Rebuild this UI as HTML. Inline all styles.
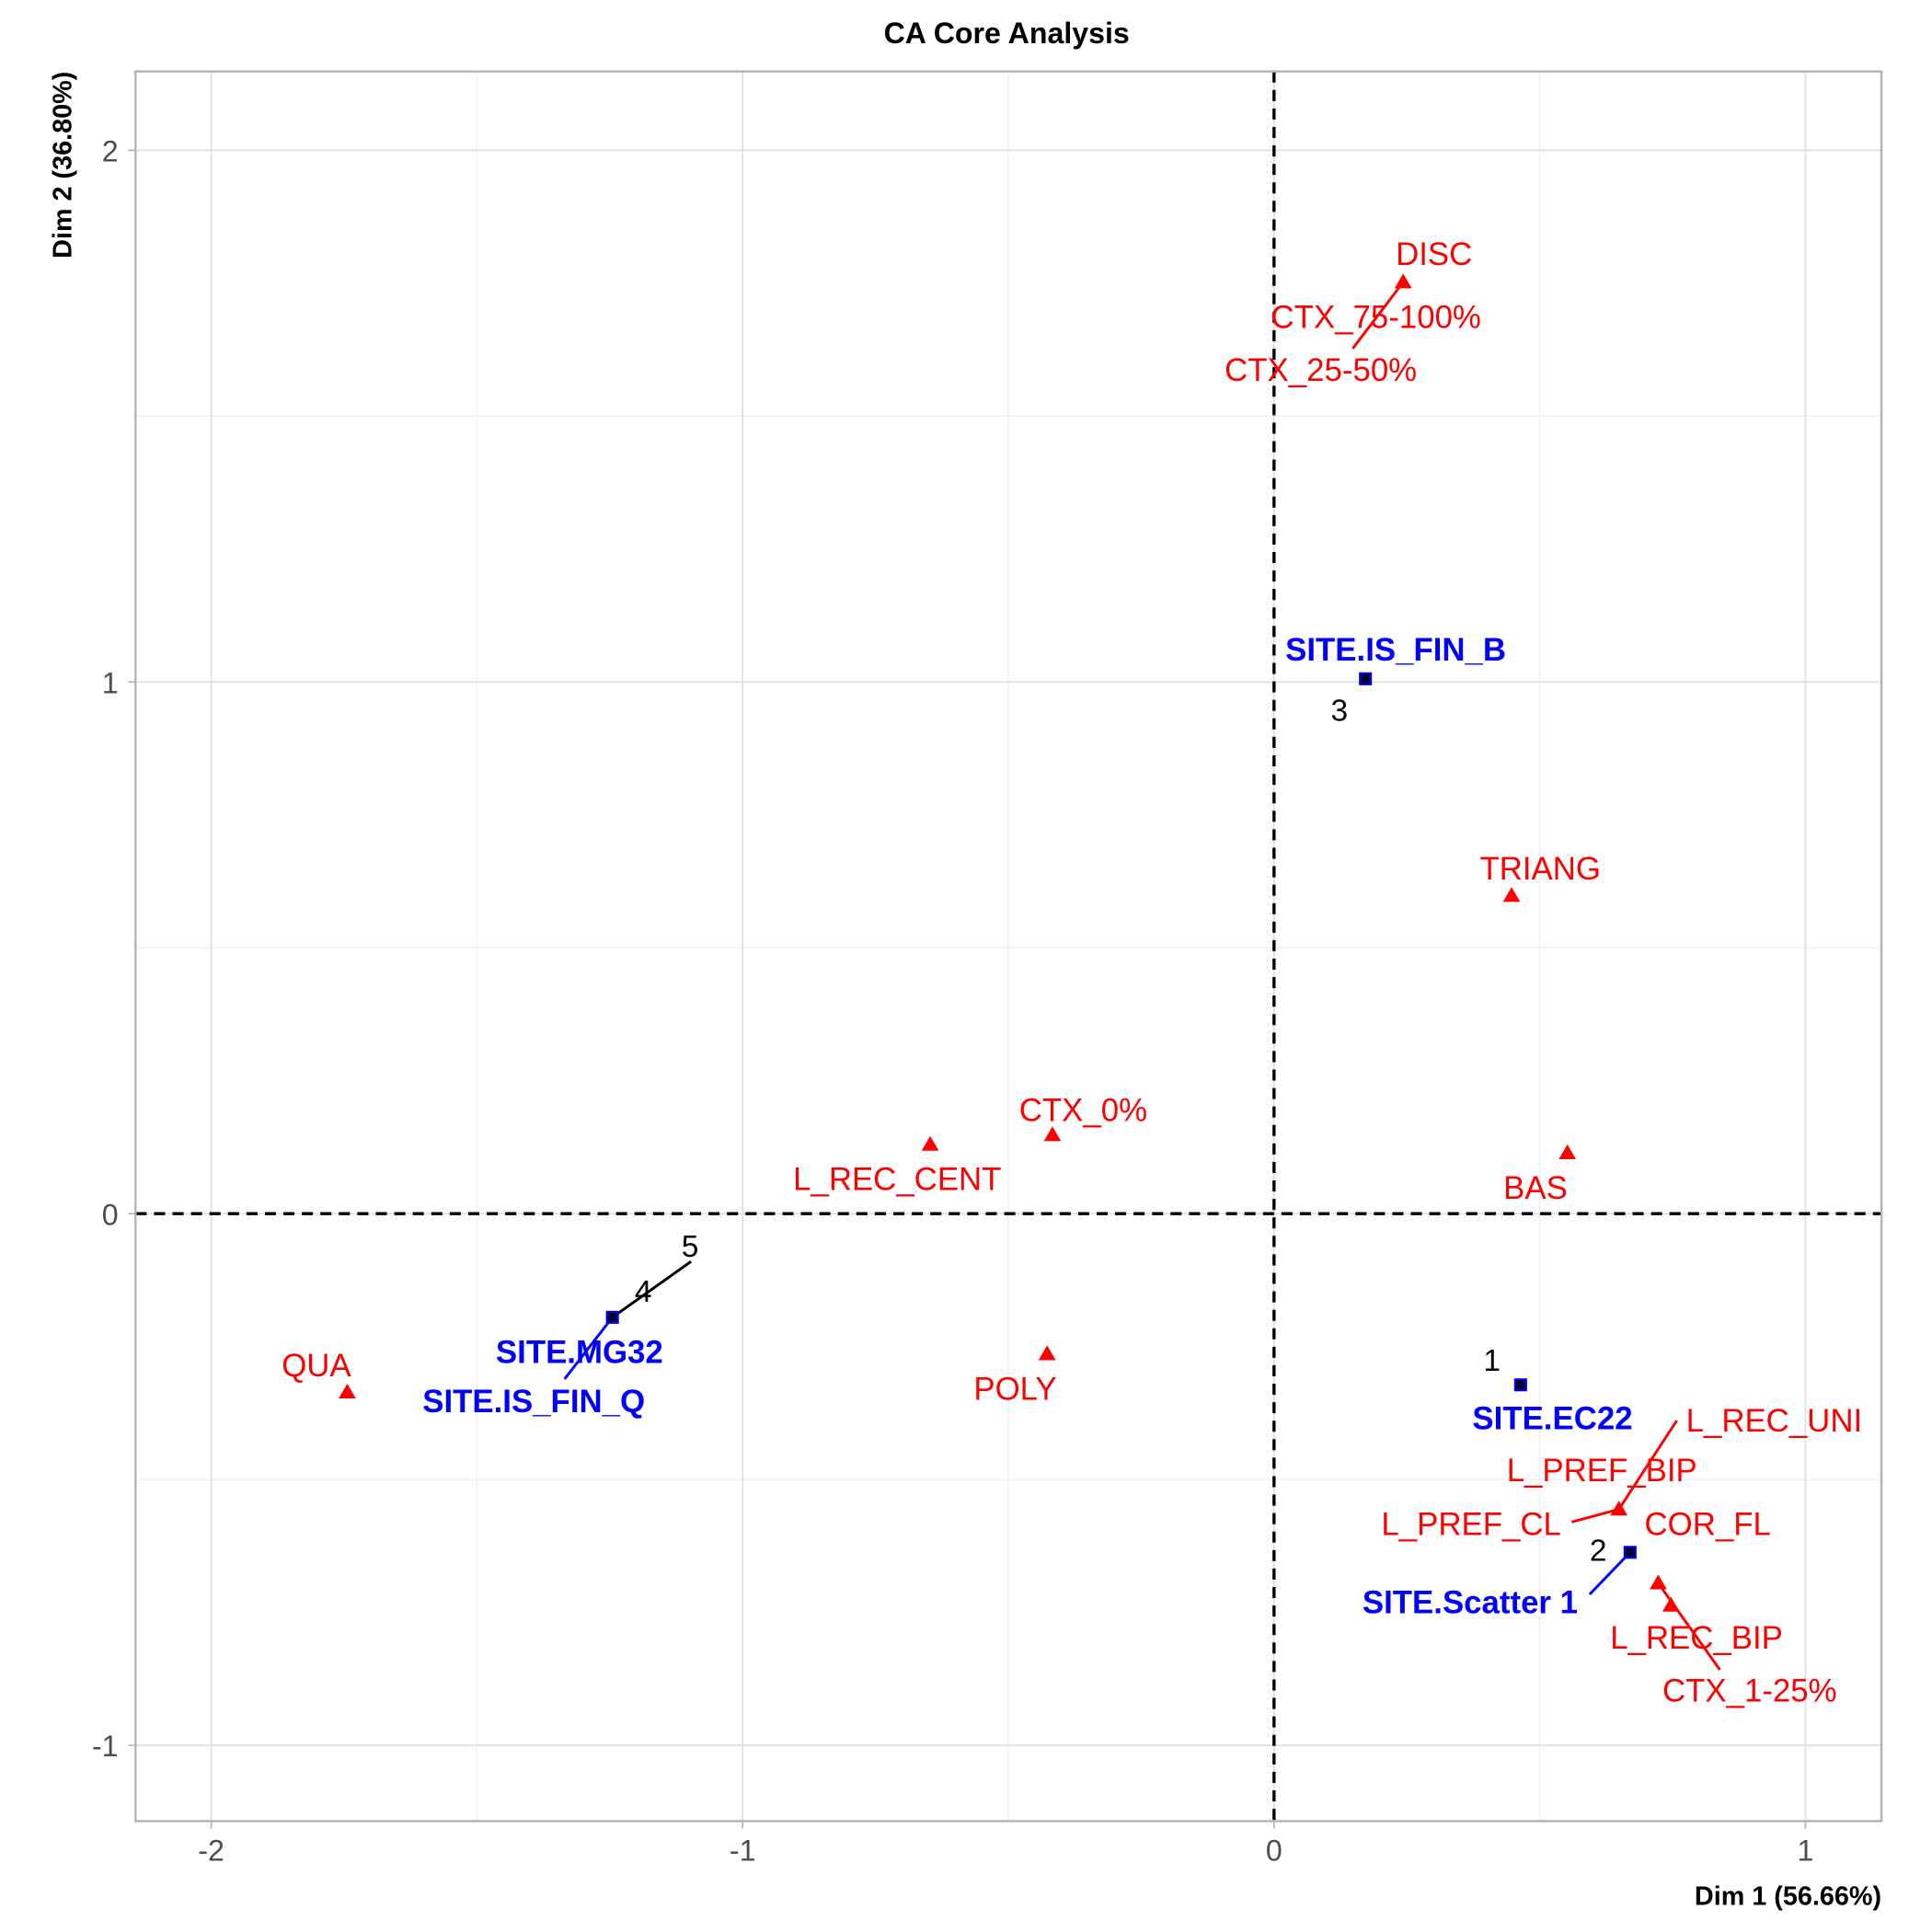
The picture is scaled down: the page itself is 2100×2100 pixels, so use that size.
<!DOCTYPE html>
<html><head><meta charset="utf-8"><style>
html,body{margin:0;padding:0;background:#fff}
svg{display:block}
text{font-family:"Liberation Sans",Arial,sans-serif}
</style></head><body>
<svg id="chart" width="2100" height="2100" viewBox="0 0 1568 1568" xmlns="http://www.w3.org/2000/svg">
<g id="grid"></g>
<g id="axes"></g>
<g id="marks"></g>
<text x="817" y="35" text-anchor="middle" font-size="24" font-weight="bold" fill="#000">CA Core Analysis</text>
<text x="1527" y="1546" text-anchor="end" font-size="21.5" font-weight="bold" fill="#000">Dim 1 (56.66%)</text>
<text transform="translate(58,58) rotate(-90)" text-anchor="end" font-size="21.5" font-weight="bold" fill="#000">Dim 2 (36.80%)</text>
</svg>
<script>
const xTicks = [-2, -1, 0, 1];
const yTicks = [-1, 0, 1, 2];
const xMinor = [-1.5, -0.5, 0.5];
const yMinor = [-0.5, 0.5, 1.5];
// row points (red triangles)
const rowNames = ["DISC","TRIANG","CTX_0%","L_REC_CENT","BAS","POLY","QUA","COR_FL","L_REC_BIP","CTX_1-25%"];
const rowX = [0.243, 0.447, -0.417, -0.647, 0.552, -0.427, -1.744, 0.649, 0.723, 0.747];
const rowY = [1.752, 0.598, 0.148, 0.130, 0.114, -0.264, -0.336, -0.556, -0.695, -0.737];
// column points (blue squares)
const colNames = ["SITE.IS_FIN_B","SITE.EC22","SITE.Scatter 1","SITE.MG32"];
const colX = [0.172, 0.464, 0.670, -1.245];
const colY = [1.006, -0.322, -0.637, -0.195];
// labels
const lblText = ["DISC","CTX_75-100%","CTX_25-50%","TRIANG","CTX_0%","L_REC_CENT","BAS","POLY","QUA","L_REC_UNI","L_PREF_BIP","L_PREF_CL","COR_FL","L_REC_BIP","CTX_1-25%",
 "SITE.IS_FIN_B","SITE.EC22","SITE.Scatter 1","SITE.MG32","SITE.IS_FIN_Q","3","1","2","4","5"];
const lblX = [0.301,0.192,0.088,0.501,-0.359,-0.709,0.492,-0.487,-1.802,0.941,0.617,0.371,0.816,0.795,0.895,
 0.229,0.524,0.369,-1.307,-1.393,0.123,0.410,0.610,-1.187,-1.099];
const lblY = [1.805,1.687,1.587,0.649,0.195,0.065,0.049,-0.329,-0.285,-0.389,-0.482,-0.584,-0.584,-0.797,-0.897,
 1.061,-0.385,-0.731,-0.260,-0.353,0.948,-0.275,-0.632,-0.145,-0.060];
const lblKind = ["r","r","r","r","r","r","r","r","r","r","r","r","r","r","r","b","b","b","b","b","k","k","k","k","k"];
// connector segments
const segX1 = [0.243, 0.649, 0.649, 0.723, 0.670, -1.245, -1.245];
const segY1 = [1.752, -0.556, -0.556, -0.695, -0.637, -0.195, -0.195];
const segX2 = [0.148, 0.758, 0.560, 0.839, 0.594, -1.335, -1.097];
const segY2 = [1.627, -0.389, -0.580, -0.858, -0.716, -0.311, -0.090];
const segKind = ["r","r","r","r","b","b","k"];

const L=110,R=1527,T=58,B=1478;
const X0=1034, UX=431.3, Y0=985, UY=431.5;
const sx = v => X0 + v*UX;
const sy = v => Y0 - v*UY;
const NS="http://www.w3.org/2000/svg";
function mk(tag, attrs, parent, txt){const e=document.createElementNS(NS,tag);for(const k in attrs)e.setAttribute(k,attrs[k]);if(txt!==undefined)e.textContent=txt;parent.appendChild(e);return e;}
const grid=document.getElementById('grid'), axes=document.getElementById('axes'), marks=document.getElementById('marks');
mk('rect',{x:L,y:T,width:R-L,height:B-T,fill:'#fff'},grid);
xMinor.forEach(v=>{const e=mk('line',{x1:sx(v),x2:sx(v),y1:T,y2:B,stroke:'#ececec','stroke-width':0.8},grid);

});
yMinor.forEach(v=>{const e=mk('line',{x1:L,x2:R,y1:sy(v),y2:sy(v),stroke:'#ececec','stroke-width':0.8},grid);

});
xTicks.forEach(v=>{const e=mk('line',{x1:sx(v),x2:sx(v),y1:T,y2:B,stroke:'#dedede','stroke-width':1.2},grid);


mk('line',{x1:sx(v),x2:sx(v),y1:B,y2:B+6,stroke:'#b3b3b3','stroke-width':1.2},axes);
const t=mk('text',{x:sx(v),y:B+32,'text-anchor':'middle','font-size':24,fill:'#4d4d4d'},axes,String(v));

});
yTicks.forEach(v=>{const e=mk('line',{x1:L,x2:R,y1:sy(v),y2:sy(v),stroke:'#dedede','stroke-width':1.2},grid);


mk('line',{x1:L-6,x2:L,y1:sy(v),y2:sy(v),stroke:'#b3b3b3','stroke-width':1.2},axes);
const t=mk('text',{x:L-14,y:sy(v)+9,'text-anchor':'end','font-size':24,fill:'#4d4d4d'},axes,String(v));

});
const h=mk('line',{x1:L,x2:R,y1:sy(0),y2:sy(0),stroke:'#000','stroke-width':2.5,'stroke-dasharray':'9,6'},axes);


const vl=mk('line',{x1:sx(0),x2:sx(0),y1:T,y2:B,stroke:'#000','stroke-width':2.5,'stroke-dasharray':'9,6'},axes);


const fr=mk('rect',{x:L,y:T,width:R-L,height:B-T,fill:'none',stroke:'#b3b3b3','stroke-width':1.8},axes);



const col={r:'#ff0000',b:'#0000ff',k:'#000000'};
segX1.forEach((v,i)=>{const e=mk('line',{x1:sx(v),y1:sy(segY1[i]),x2:sx(segX2[i]),y2:sy(segY2[i]),stroke:col[segKind[i]],'stroke-width':2.2},marks);

});
rowX.forEach((v,i)=>{const cx=sx(v),cy=sy(rowY[i]);
const e=mk('polygon',{points:`${cx},${cy-7} ${cx-7},${cy+5} ${cx+7},${cy+5}`,fill:'#ff0000'},marks);

});
colX.forEach((v,i)=>{const cx=sx(v),cy=sy(colY[i]);
const e=mk('rect',{x:cx-4.5,y:cy-4.5,width:9,height:9,fill:'#000033',stroke:'#0000ff','stroke-width':1.5},marks);

});
lblText.forEach((s,i)=>{const k=lblKind[i];
const e=mk('text',{x:sx(lblX[i]),y:sy(lblY[i])+9,'text-anchor':'middle','font-size':k==='k'?25:26,'font-weight':k==='b'?'bold':'normal',fill:col[k]},marks,s);

});
</script>
</body></html>
